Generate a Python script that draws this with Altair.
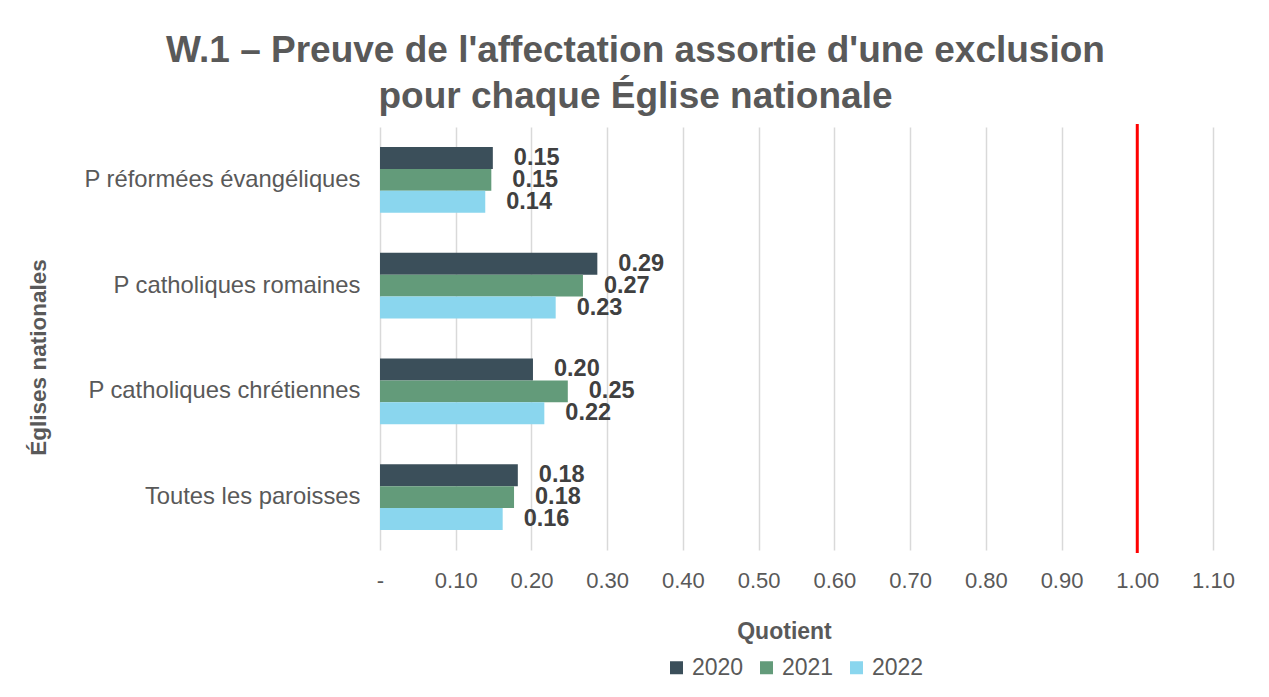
import altair as alt
import pandas as pd

categories = ["P réformées évangéliques", "P catholiques romaines",
              "P catholiques chrétiennes", "Toutes les paroisses"]
years = ["2020", "2021", "2022"]
v2020 = [0.149, 0.287, 0.202, 0.182]
v2021 = [0.147, 0.268, 0.248, 0.177]
v2022 = [0.139, 0.232, 0.217, 0.162]
colors = ["#3B4F5A", "#639B7A", "#8AD6EE"]
tick_values = [0.0, 0.1, 0.2, 0.3, 0.4, 0.5, 0.6, 0.7, 0.8, 0.9, 1.0, 1.1]
threshold = [1.0]

rows = []
for yr, vals in zip(years, [v2020, v2021, v2022]):
    for c, v in zip(categories, vals):
        rows.append({"cat": c, "year": yr, "value": v})
df = pd.DataFrame(rows)

FONT = "Liberation Sans"
GREY = "#595959"

x_enc = alt.X(
    "value:Q",
    scale=alt.Scale(domain=[0, 1.1], nice=False, zero=True),
    axis=alt.Axis(
        values=tick_values,
        labelExpr="datum.value == 0 ? '-' : format(datum.value, '.2f')",
        title="Quotient",
        titleFontSize=23, titleFontWeight="bold", titleColor=GREY, titleFont=FONT,
        titleBaseline="middle", titleY=81, titleX=404,
        labelFontSize=22, labelColor=GREY, labelFont=FONT, labelPadding=20,
        labelFlush=False, labelOverlap=False,
        ticks=False, domain=False,
        grid=True, gridColor="#D9D9D9", gridWidth=1.5,
    ),
)
y_enc = alt.Y(
    "cat:N",
    sort=categories,
    scale=alt.Scale(paddingInner=0.376, paddingOuter=0.188),
    axis=alt.Axis(
        title="Églises nationales",
        titleFontSize=22.5, titleFontWeight="bold", titleColor=GREY, titleFont=FONT,
        titleBaseline="middle", titleX=-342, titleY=230, titleAngle=-90,
        labelFontSize=23.8, labelColor=GREY, labelFont=FONT, labelPadding=20,
        labelLimit=400,
        ticks=False, domain=False, grid=False,
    ),
)
yoff = alt.YOffset("year:N", sort=years, scale=alt.Scale(paddingInner=0, paddingOuter=0))

base = alt.Chart(df)
bars = base.mark_bar().encode(
    x=x_enc, y=y_enc, yOffset=yoff,
    color=alt.Color(
        "year:N",
        scale=alt.Scale(domain=years, range=colors),
        legend=alt.Legend(
            title=None, orient="none", legendX=285, legendY=529,
            direction="horizontal", symbolType="square", symbolSize=169,
            symbolStrokeWidth=0, labelFontSize=23, labelColor=GREY, labelFont=FONT,
            labelOffset=4, columnPadding=11,
        ),
    ),
)
labels = base.mark_text(
    align="left", baseline="middle", dx=21, fontSize=23.5, fontWeight="bold",
    color="#404040", font=FONT,
).encode(
    x="value:Q", y=alt.Y("cat:N", sort=categories), yOffset=yoff,
    text=alt.Text("value:Q", format=".2f"),
)
rule = alt.Chart(pd.DataFrame({"x": threshold})).mark_rule(
    color="#FF0000", strokeWidth=3
).encode(x="x:Q", y=alt.value(-3), y2=alt.value(426))

chart = alt.layer(bars, labels, rule).properties(
    width=833, height=423,
    autosize=alt.AutoSizeParams(type="none"),
    padding={"left": 372, "top": 119, "right": 48, "bottom": 139},
    title=alt.TitleParams(
        text=["W.1 – Preuve de l'affectation assortie d'une exclusion",
              "pour chaque Église nationale"],
        fontSize=37, fontWeight="bold", color=GREY, font=FONT,
        lineHeight=46, anchor="middle", dx=-161, dy=44, offset=14, baseline="bottom",
    ),
).configure(background="white").configure_view(stroke="transparent", strokeWidth=0)

chart.save("out.html", embed_options={"renderer": "svg", "actions": False})
